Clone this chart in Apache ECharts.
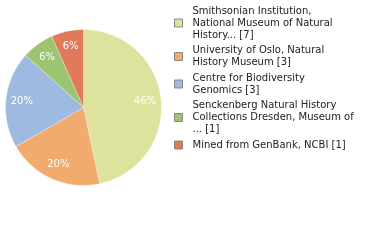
<!DOCTYPE html>
<html><head><meta charset="utf-8">
<script src="https://cdn.jsdelivr.net/npm/echarts@6/dist/echarts.min.js"></script>
<style>html,body{margin:0;padding:0;background:#fff}#c{width:380px;height:240px}</style>
</head><body><div id="c"></div>
<script>
const categories = [
  "Smithsonian Institution,\nNational Museum of Natural\nHistory...",
  "University of Oslo, Natural\nHistory Museum",
  "Centre for Biodiversity\nGenomics",
  "Senckenberg Natural History\nCollections Dresden, Museum of\n...",
  "Mined from GenBank, NCBI"
];
const counts = [7, 3, 3, 1, 1];
const colors = ["#dde39d", "#f0ab6d", "#9fbae0", "#9dc46f", "#e07a5a"];

const total = counts.reduce((a, b) => a + b, 0);
const data = categories.map((n, i) => ({ name: n, value: counts[i], itemStyle: { color: colors[i] } }));
const countOf = {};
categories.forEach((n, i) => countOf[n] = counts[i]);

const chart = echarts.init(document.getElementById('c'), null, { renderer: 'canvas' });
chart.setOption({
  animation: false,
  backgroundColor: '#fff',
  legend: {
    data: categories,
    orient: 'vertical',
    left: 174, top: 5, padding: 0,
    itemGap: 3.5,
    itemWidth: 8, itemHeight: 8,
    icon: 'rect',
    itemStyle: { borderColor: '#888', borderWidth: 1 },
    textStyle: { fontFamily: 'DejaVu Sans', fontSize: 10, lineHeight: 12, color: '#222', padding: [0, 0, 0, 5] },
    formatter: n => n + ' [' + countOf[n] + ']',
    selectedMode: false
  },
  series: [
    {
      type: 'pie', center: [83.5, 107.5], radius: [0, 78],
      startAngle: 90, clockwise: true, silent: true,
      label: { show: false }, labelLine: { show: false },
      itemStyle: { borderColor: '#fff', borderWidth: 0.3 },
      data: data
    },
    {
      type: 'pie', center: [83.5, 107.5], radius: [40, 78],
      startAngle: 90, clockwise: true, silent: true,
      legendHoverLink: false,
      itemStyle: { color: 'rgba(0,0,0,0)' },
      label: {
        show: true, position: 'inside', color: '#fff',
        fontFamily: 'DejaVu Sans', fontSize: 10,
        formatter: p => Math.floor(p.value / total * 100) + '%'
      },
      labelLine: { show: false },
      data: categories.map((n, i) => ({ name: 'lbl' + i, value: counts[i] }))
    }
  ]
});
</script></body></html>
